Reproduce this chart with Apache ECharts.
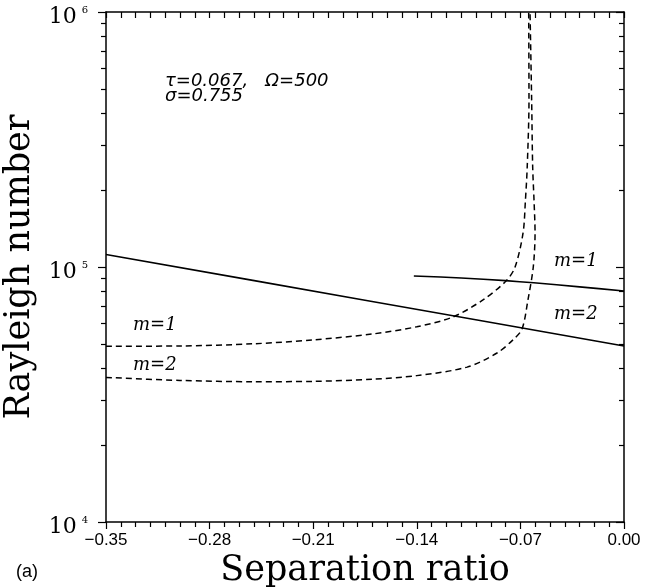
<!DOCTYPE html>
<html>
<head>
<meta charset="utf-8">
<script src="https://cdn.jsdelivr.net/npm/echarts@6/dist/echarts.min.js"></script>
<style>
html, body { margin: 0; padding: 0; background: #fff; }
#chart { width: 657px; height: 588px; }
</style>
</head>
<body>
<div id="chart"></div>
<script>
// solid curves
var solid1X = [-0.142, -0.11, -0.08, -0.061, -0.03, 0.0];
var solid1Y = [92200, 90600, 88400, 86700, 83600, 80500];
var solid2X = [-0.35, -0.175, 0.0];
var solid2Y = [112000, 74100, 49000];

// dashed curves
var dash1X = [-0.35, -0.30, -0.25, -0.21, -0.17, -0.14, -0.1155, -0.0953, -0.0797, -0.0736, -0.0682, -0.0666, -0.0654, -0.0642, -0.0644];
var dash1Y = [48900, 49000, 50000, 51800, 54600, 58300, 63700, 74300, 88100, 100000, 136000, 183000, 246000, 452000, 1000000];
var dash2X = [-0.35, -0.30, -0.25, -0.21, -0.17, -0.14, -0.106, -0.0858, -0.075, -0.0689, -0.0649, -0.0613, -0.0601, -0.0608, -0.0617, -0.0624, -0.0635];
var dash2Y = [36900, 35900, 35500, 35600, 36300, 37500, 40500, 46000, 51800, 57100, 74300, 100000, 136000, 183000, 246000, 452000, 1000000];

// ticks
var yMinor = [2e4, 3e4, 4e4, 5e4, 6e4, 7e4, 8e4, 9e4, 2e5, 3e5, 4e5, 5e5, 6e5, 7e5, 8e5, 9e5];
var yMinorLog = yMinor.map(function (v) { return Math.log10(v); });

var tiexy = function (x, y) {
  var res = [];
  for (var i = 0; i < x.length; i++) {
    res.push([x[i], y[i]]);
  }
  return res;
};

var chart = echarts.init(document.getElementById('chart'));

var lineStyleAxis = { color: '#000', width: 1.5 };
var tickStyle = { color: '#000', width: 1.2 };
var labelFont = { fontFamily: 'DejaVu Serif', fontStyle: 'italic', fontSize: 18, fill: '#000' };

var option = {
  backgroundColor: '#fff',
  animation: false,
  grid: { left: 106, right: 33, top: 12, bottom: 66, outerBoundsMode: 'none' },
  xAxis: [{
    type: 'value',
    position: 'bottom',
    min: -0.35,
    max: 0,
    interval: 0.07,
    name: 'Separation ratio',
    nameLocation: 'middle',
    nameGap: 30,
    nameTextStyle: { fontFamily: 'DejaVu Serif', fontSize: 35, color: '#000' },
    axisLine: { show: true, onZero: false, lineStyle: lineStyleAxis },
    axisTick: { show: true, inside: false, length: 7, lineStyle: tickStyle },
    minorTick: { show: true, splitNumber: 7, length: 5, lineStyle: tickStyle },
    axisLabel: {
      margin: 10,
      fontFamily: 'Liberation Sans',
      fontSize: 17,
      color: '#000',
      formatter: function (v) { return v.toFixed(2).replace('-', '\u2212'); }
    },
    splitLine: { show: false }
  }, {
    type: 'value',
    position: 'top',
    min: -0.35,
    max: 0,
    interval: 0.07,
    axisLine: { show: true, onZero: false, lineStyle: lineStyleAxis },
    axisTick: { show: true, inside: true, length: 6, lineStyle: tickStyle },
    minorTick: { show: true, splitNumber: 7, length: 6, lineStyle: tickStyle },
    axisLabel: { show: false },
    splitLine: { show: false }
  }],
  yAxis: [{
    type: 'log',
    logBase: 10,
    position: 'left',
    min: 1e4,
    max: 1e6,
    interval: 1,
    name: 'Rayleigh number',
    nameLocation: 'middle',
    nameGap: 50,
    nameTextStyle: { fontFamily: 'DejaVu Serif', fontSize: 35, color: '#000' },
    axisLine: { show: true, onZero: false, lineStyle: lineStyleAxis },
    axisTick: { show: true, inside: false, length: 8, lineStyle: tickStyle },
    axisLabel: {
      margin: 18,
      padding: [10, 0, 0, 0],
      formatter: function (v) {
        return '{b|10}{e|' + Math.round(Math.log10(v)) + '}';
      },
      rich: {
        b: { fontFamily: 'DejaVu Serif', fontSize: 22, lineHeight: 24, color: '#000' },
        e: { fontFamily: 'DejaVu Serif', fontSize: 10, verticalAlign: 'top', padding: [0, 0, 0, 5], color: '#000' }
      }
    },
    splitLine: { show: false }
  }, {
    type: 'value',
    position: 'left',
    min: 4,
    max: 6,
    axisLine: { show: false, onZero: false },
    axisTick: { show: true, inside: false, length: 5, customValues: yMinorLog, lineStyle: tickStyle },
    axisLabel: { show: false },
    splitLine: { show: false }
  }, {
    type: 'log',
    logBase: 10,
    position: 'right',
    min: 1e4,
    max: 1e6,
    interval: 1,
    axisLine: { show: true, onZero: false, lineStyle: lineStyleAxis },
    axisTick: { show: true, inside: true, length: 8, lineStyle: tickStyle },
    axisLabel: { show: false },
    splitLine: { show: false }
  }, {
    type: 'value',
    position: 'right',
    min: 4,
    max: 6,
    axisLine: { show: false, onZero: false },
    axisTick: { show: true, inside: true, length: 5, customValues: yMinorLog, lineStyle: tickStyle },
    axisLabel: { show: false },
    splitLine: { show: false }
  }],
  series: [{
    name: 'm1 solid',
    type: 'line',
    smooth: 0.3,
    symbol: 'none',
    lineStyle: { color: '#000', width: 1.6 },
    data: tiexy(solid1X, solid1Y)
  }, {
    name: 'm2 solid',
    type: 'line',
    smooth: 0.3,
    symbol: 'none',
    lineStyle: { color: '#000', width: 1.6 },
    data: tiexy(solid2X, solid2Y)
  }, {
    name: 'm1 dashed',
    type: 'line',
    smooth: 0.3,
    symbol: 'none',
    lineStyle: { color: '#000', width: 1.5, type: [6, 4] },
    data: tiexy(dash1X, dash1Y)
  }, {
    name: 'm2 dashed',
    type: 'line',
    smooth: 0.3,
    symbol: 'none',
    lineStyle: { color: '#000', width: 1.5, type: [6, 4] },
    data: tiexy(dash2X, dash2Y)
  }],
  graphic: [
    { type: 'text', left: 165, top: 72, style: { text: '\u03c4=0.067,   \u03a9=500\n\u03c3=0.755', fontFamily: 'DejaVu Sans', fontStyle: 'italic', fontSize: 18, lineHeight: 15, fill: '#000' } },
    { type: 'text', left: 133, top: 316, style: Object.assign({ text: 'm=1' }, labelFont) },
    { type: 'text', left: 133, top: 356, style: Object.assign({ text: 'm=2' }, labelFont) },
    { type: 'text', left: 554, top: 252, style: Object.assign({ text: 'm=1' }, labelFont) },
    { type: 'text', left: 554, top: 305, style: Object.assign({ text: 'm=2' }, labelFont) },
    { type: 'text', left: 16, top: 563, style: { text: '(a)', fontFamily: 'Liberation Sans', fontSize: 18, fill: '#000' } }
  ]
};

chart.setOption(option);
</script>
</body>
</html>
